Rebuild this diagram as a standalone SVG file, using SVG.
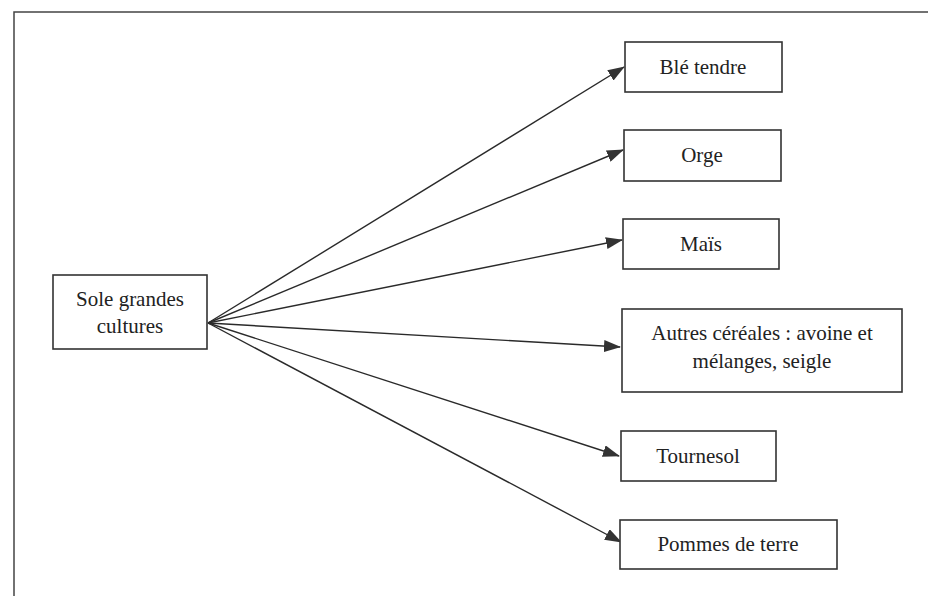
<svg xmlns="http://www.w3.org/2000/svg" width="928" height="596" viewBox="0 0 928 596">
<style>
.box{fill:#fff;stroke:#333;stroke-width:1.6}
.t{font-family:"Liberation Serif","Times New Roman",serif;font-size:21px;fill:#222;text-anchor:middle}
.c{stroke:#2a2a2a;stroke-width:1.4;fill:none;marker-end:url(#ah)}
</style>
<defs>
<marker id="ah" markerWidth="17" markerHeight="12" refX="16" refY="6" orient="auto" markerUnits="userSpaceOnUse">
<path d="M0,0 L17,6 L0,12 z" fill="#333"/>
</marker>
</defs>
<rect width="928" height="596" fill="#fff"/>
<g id="frame" fill="none" stroke="#444" stroke-width="1.5">
<path d="M14,596 L14,12 L928,12"/>
</g>
<g id="connectors">
<line class="c" x1="208" y1="323" x2="624" y2="67"/>
<line class="c" x1="208" y1="323" x2="623" y2="150"/>
<line class="c" x1="208" y1="323" x2="622" y2="240"/>
<line class="c" x1="208" y1="323" x2="620" y2="347"/>
<line class="c" x1="208" y1="323" x2="619" y2="456"/>
<line class="c" x1="208" y1="323" x2="621" y2="542"/>
</g>
<g id="sole">
<rect class="box" x="53" y="275" width="154" height="74"/>
<text class="t" x="130" y="306">Sole grandes</text>
<text class="t" x="130" y="333">cultures</text>
</g>
<g id="ble">
<rect class="box" x="625" y="42" width="157" height="50"/>
<text class="t" x="703" y="74">Blé tendre</text>
</g>
<g id="orge">
<rect class="box" x="624" y="130" width="157" height="51"/>
<text class="t" x="702" y="162">Orge</text>
</g>
<g id="mais">
<rect class="box" x="623" y="219" width="156" height="50"/>
<text class="t" x="701" y="251">Maïs</text>
</g>
<g id="autres">
<rect class="box" x="622" y="309" width="280" height="83"/>
<text class="t" x="762" y="340">Autres céréales : avoine et</text>
<text class="t" x="762" y="368">mélanges, seigle</text>
</g>
<g id="tournesol">
<rect class="box" x="621" y="431" width="155" height="50"/>
<text class="t" x="698" y="463">Tournesol</text>
</g>
<g id="pommes">
<rect class="box" x="620" y="520" width="217" height="49"/>
<text class="t" x="728" y="551">Pommes de terre</text>
</g>
</svg>
